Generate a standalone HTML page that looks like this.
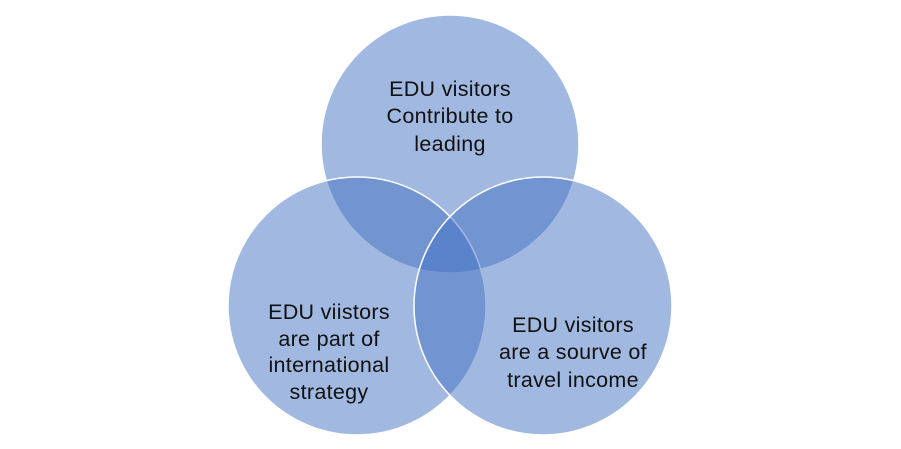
<!DOCTYPE html>
<html><head><style>html,body{margin:0;padding:0;background:#fff;}svg{display:block}</style></head>
<body>
<svg width="901" height="449" xmlns="http://www.w3.org/2000/svg">
<g fill="rgb(68,114,196)" fill-opacity="0.5" stroke="#fff" stroke-width="1.5">
<circle cx="450" cy="144" r="129"/>
<circle cx="357" cy="306" r="129"/>
<circle cx="543" cy="306" r="129"/>
</g>
<g font-family="Liberation Sans, sans-serif" font-size="21.5" fill="#111" text-anchor="middle" letter-spacing="0.3">
<text x="450" y="96">EDU visitors</text>
<text x="450" y="123">Contribute to</text>
<text x="450" y="151">leading</text>
<text x="329" y="319">EDU viistors</text>
<text x="329" y="346">are part of</text>
<text x="329" y="372">international</text>
<text x="329" y="399">strategy</text>
<text x="573" y="332">EDU visitors</text>
<text x="573" y="359">are a sourve of</text>
<text x="573" y="387">travel income</text>
</g>
</svg>
</body></html>
